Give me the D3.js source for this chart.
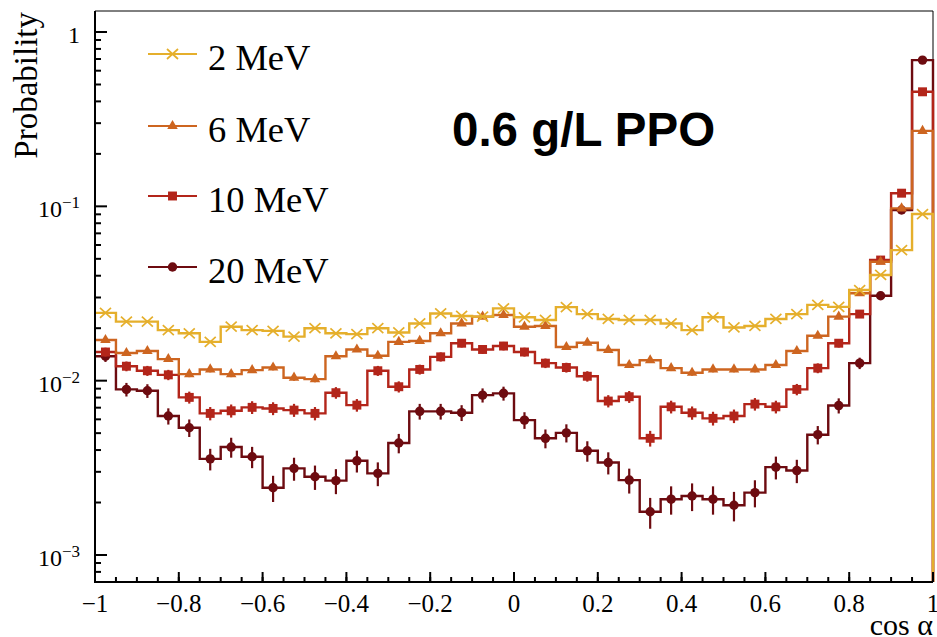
<!DOCTYPE html>
<html>
<head>
<meta charset="utf-8">
<script src="https://cdn.jsdelivr.net/npm/d3@7/dist/d3.min.js"></script>
<style>
	body { margin: 0; background: #fff; }
	text { font-family: "Liberation Serif", "Times New Roman", serif; fill: #000; }
</style>
</head>
<body>
<svg id="chart" width="937" height="637"></svg>
<script>
// histogram binning of cos(alpha)
var xMin = -1, xMax = 1, nBins = 40;

var seriesLabels = ['2 MeV', '6 MeV', '10 MeV', '20 MeV'];

// probability per bin
var prob2MeV = [0.0245, 0.0218, 0.0218, 0.0195, 0.0187, 0.0167, 0.0204, 0.0195, 0.0193, 0.0179,
	0.0200, 0.0187, 0.0185, 0.0200, 0.0189, 0.0213, 0.0243, 0.0235, 0.0233, 0.0260,
	0.0231, 0.0223, 0.0264, 0.0241, 0.0226, 0.0223, 0.0223, 0.0213, 0.0195, 0.0231,
	0.0202, 0.0206, 0.0226, 0.0241, 0.0272, 0.0265, 0.0331, 0.0404, 0.0561, 0.0903];
var prob6MeV = [0.0171, 0.0144, 0.0148, 0.0133, 0.0109, 0.0116, 0.0109, 0.0115, 0.0119, 0.0104,
	0.0102, 0.0138, 0.0151, 0.0139, 0.0167, 0.0169, 0.0187, 0.0213, 0.0233, 0.0238,
	0.0204, 0.0206, 0.0156, 0.0165, 0.0150, 0.0123, 0.0131, 0.0118, 0.0111, 0.0116,
	0.0116, 0.0116, 0.0123, 0.0148, 0.0181, 0.0233, 0.0317, 0.0481, 0.0974, 0.271];
var prob10MeV = [0.0146, 0.0121, 0.0114, 0.0108, 0.00802, 0.00649, 0.00672, 0.00703, 0.00693, 0.00678,
	0.00649, 0.00853, 0.00724, 0.0114, 0.00923, 0.0116, 0.0137, 0.0164, 0.0151, 0.0158,
	0.0146, 0.0126, 0.0119, 0.0106, 0.00764, 0.00809, 0.00467, 0.00708, 0.00654, 0.00608,
	0.00627, 0.00734, 0.00708, 0.00891, 0.0118, 0.0164, 0.0241, 0.0492, 0.119, 0.454];
var prob20MeV = [0.0138, 0.00891, 0.00875, 0.00627, 0.00537, 0.00356, 0.00416, 0.00366, 0.00243, 0.00314,
	0.00281, 0.00267, 0.00347, 0.00294, 0.00439, 0.00667, 0.00667, 0.00655, 0.00826, 0.00846,
	0.00594, 0.00467, 0.00502, 0.00396, 0.00339, 0.00269, 0.00177, 0.00209, 0.00218, 0.00209,
	0.00193, 0.00228, 0.00319, 0.00305, 0.00490, 0.00720, 0.0126, 0.0307, 0.0953, 0.690];

// approximate event counts, used for the statistical error bars
var nEvents = [200000, 60000, 20000, 14000];

var xTicks = [-1, -0.8, -0.6, -0.4, -0.2, 0, 0.2, 0.4, 0.6, 0.8, 1];
var yTicks = [1e-3, 1e-2, 1e-1, 1];
var yTickExp = ['\u22123', '\u22122', '\u22121', ''];

var allSeries = [prob2MeV, prob6MeV, prob10MeV, prob20MeV];

// ----- styles
var colors = ['#e5af2c', '#cd6520', '#b3251a', '#6d0b10'];
var markers = ['cross', 'triangle', 'square', 'circle'];

var W = 937, H = 637;
var margin = {left: 95, right: 4, top: 11, bottom: 55};

var svg = d3.select('#chart');

var x = d3.scaleLinear().domain([xMin, xMax]).range([margin.left, W - margin.right]);
var y = d3.scaleLog().domain([7.0e-4, 1.32]).range([H - margin.bottom, margin.top]);

var binW = (xMax - xMin) / nBins;
var edges = d3.range(nBins + 1).map(function (i) { return xMin + i * binW; });

// thin frame (top and right)
svg.append('path')
	.attr('d', 'M' + x(xMin) + ',' + y.range()[1] + 'H' + x(xMax) + 'V' + y.range()[0])
	.attr('fill', 'none')
	.attr('stroke', '#000')
	.attr('stroke-width', 1);

function markerPath(type) {
	if (type == 'cross') return 'M-5.5,-5L5.5,5M-5.5,5L5.5,-5';
	if (type == 'triangle') return d3.symbol().type(d3.symbolTriangle).size(48)();
	if (type == 'square') return d3.symbol().type(d3.symbolSquare).size(80)();
	return d3.symbol().type(d3.symbolCircle).size(70)();
}

function drawMarker(g, type, color, cx, cy) {
	var p = g.append('path')
		.attr('d', markerPath(type))
		.attr('transform', 'translate(' + cx + ',' + cy + ')');
	if (type == 'cross') {
		p.attr('fill', 'none').attr('stroke', color).attr('stroke-width', 1.7);
	} else {
		p.attr('fill', color);
	}
	return p;
}

function stepPath(vals) {
	var d = 'M' + x(edges[0]) + ',' + y(vals[0]);
	for (var i = 0; i < vals.length; ++i) {
		if (i > 0) d += 'V' + y(vals[i]);
		d += 'H' + x(edges[i + 1]);
	}
	d += 'V' + y.range()[0];
	return d;
}

// draw from 20 MeV up to 2 MeV so the 2 MeV line sits on top
for (var s = allSeries.length - 1; s >= 0; --s) {
	var vals = allSeries[s];
	var g = svg.append('g').attr('class', 'series');

	g.append('path')
		.attr('d', stepPath(vals))
		.attr('fill', 'none')
		.attr('stroke', colors[s])
		.attr('stroke-width', 2.4);

	var centers = vals.map(function (v, i) { return (edges[i] + edges[i + 1]) / 2; });

	g.selectAll('line.err')
		.data(vals)
		.enter().append('line')
		.attr('class', 'err')
		.attr('x1', function (d, i) { return x(centers[i]); })
		.attr('x2', function (d, i) { return x(centers[i]); })
		.attr('y1', function (d) { return y(d + Math.sqrt(d / nEvents[s])); })
		.attr('y2', function (d) { return y(Math.max(d - Math.sqrt(d / nEvents[s]), 1e-5)); })
		.attr('stroke', colors[s])
		.attr('stroke-width', 2.2);

	for (var i = 0; i < vals.length; ++i)
		drawMarker(g, markers[s], colors[s], x(centers[i]), y(vals[i]));
}

// ----- axes
var xAxisY = y.range()[0];
var ax = svg.append('g').attr('class', 'axes');

ax.append('line')
	.attr('x1', x(xMin) - 1).attr('x2', x(xMax))
	.attr('y1', xAxisY).attr('y2', xAxisY)
	.attr('stroke', '#000').attr('stroke-width', 2);
ax.append('line')
	.attr('x1', x(xMin)).attr('x2', x(xMin))
	.attr('y1', y.range()[1]).attr('y2', xAxisY + 1)
	.attr('stroke', '#000').attr('stroke-width', 2);

// x minor ticks every bin width
ax.selectAll('line.xminor')
	.data(edges)
	.enter().append('line')
	.attr('x1', function (d) { return x(d); })
	.attr('x2', function (d) { return x(d); })
	.attr('y1', xAxisY).attr('y2', xAxisY - 5)
	.attr('stroke', '#000').attr('stroke-width', 2);

ax.selectAll('line.xmajor')
	.data(xTicks)
	.enter().append('line')
	.attr('x1', function (d) { return x(d); })
	.attr('x2', function (d) { return x(d); })
	.attr('y1', xAxisY).attr('y2', xAxisY - 10)
	.attr('stroke', '#000').attr('stroke-width', 2);

ax.selectAll('text.xlab')
	.data(xTicks)
	.enter().append('text')
	.attr('x', function (d) { return x(d); })
	.attr('y', 612)
	.attr('text-anchor', 'middle')
	.attr('font-size', 25)
	.text(function (d) { return d3.format('')(d).replace('-', '\u2212'); });

// y minor ticks 2..9 per decade
var yMinor = [];
[1e-4, 1e-3, 1e-2, 1e-1].forEach(function (dec) {
	for (var k = 2; k <= 9; ++k) {
		var v = k * dec;
		if (v >= y.domain()[0] && v <= y.domain()[1]) yMinor.push(v);
	}
});

ax.selectAll('line.yminor')
	.data(yMinor)
	.enter().append('line')
	.attr('x1', x(xMin)).attr('x2', x(xMin) + 6)
	.attr('y1', function (d) { return y(d); })
	.attr('y2', function (d) { return y(d); })
	.attr('stroke', '#000').attr('stroke-width', 2);

ax.selectAll('line.ymajor')
	.data(yTicks)
	.enter().append('line')
	.attr('x1', x(xMin)).attr('x2', x(xMin) + 12)
	.attr('y1', function (d) { return y(d); })
	.attr('y2', function (d) { return y(d); })
	.attr('stroke', '#000').attr('stroke-width', 2);

var ylab = ax.selectAll('text.ylab')
	.data(yTicks)
	.enter().append('text')
	.attr('x', 80)
	.attr('y', function (d) { return y(d) + 11; })
	.attr('text-anchor', 'end')
	.attr('font-size', 24);

ylab.each(function (d, i) {
	var t = d3.select(this);
	if (yTickExp[i] == '') {
		t.text('1');
	} else {
		t.append('tspan').text('10');
		t.append('tspan').attr('dy', -9).attr('font-size', 17).text(yTickExp[i]);
	}
});

// axis titles
svg.append('text')
	.attr('transform', 'translate(37,12) rotate(-90)')
	.attr('text-anchor', 'end')
	.attr('font-size', 33)
	.text('Probability');

svg.append('text')
	.attr('x', 933)
	.attr('y', 635)
	.attr('text-anchor', 'end')
	.attr('font-size', 30)
	.text('cos \u03b1');

// label
svg.append('text')
	.attr('x', 452)
	.attr('y', 146)
	.style('font-family', '"Liberation Sans", Arial, sans-serif')
	.attr('font-weight', 'bold')
	.attr('font-size', 47.5)
	.text('0.6 g/L PPO');

// ----- legend
var legendY = [54, 126, 196, 267];
var leg = svg.append('g').attr('class', 'legend');
seriesLabels.forEach(function (lab, i) {
	leg.append('line')
		.attr('x1', 148).attr('x2', 197)
		.attr('y1', legendY[i]).attr('y2', legendY[i])
		.attr('stroke', colors[i]).attr('stroke-width', 2.2);
	drawMarker(leg, markers[i], colors[i], 172.5, legendY[i]);
	leg.append('text')
		.attr('x', 208)
		.attr('y', legendY[i] + 16)
		.attr('font-size', 36.5)
		.text(lab);
});
</script>
</body>
</html>
